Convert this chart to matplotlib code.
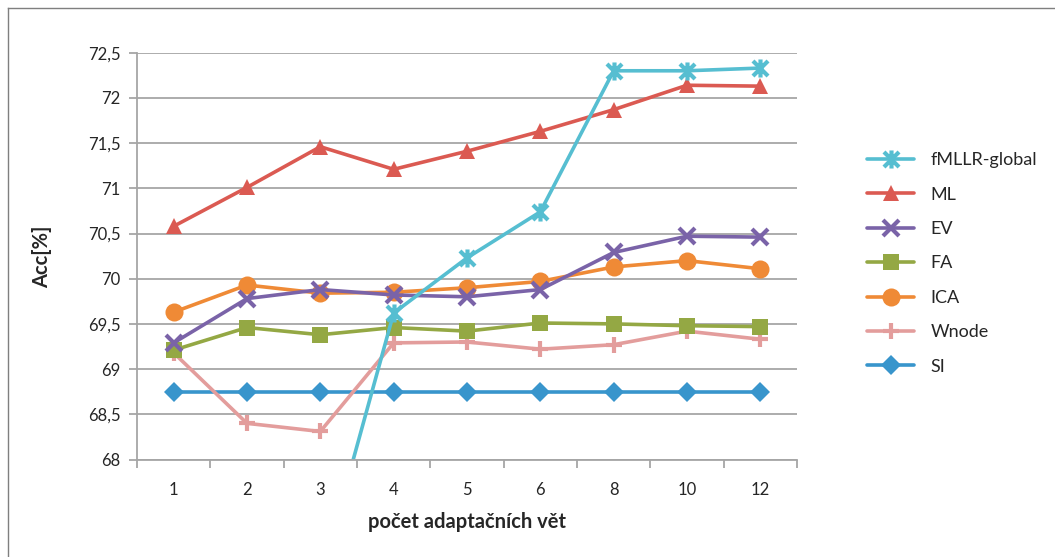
import numpy as np
import matplotlib
matplotlib.use("Agg")
import matplotlib.pyplot as plt
from matplotlib.path import Path
from matplotlib.ticker import FixedLocator, FuncFormatter

plt.rcParams['font.family'] = ['Lato', 'DejaVu Sans']

categories = ["1", "2", "3", "4", "5", "6", "8", "10", "12"]

fmllr_global = [np.nan, np.nan, 66.68, 69.62, 70.23, 70.74, 72.30, 72.30, 72.33]
ml = [70.58, 71.01, 71.46, 71.21, 71.41, 71.63, 71.87, 72.14, 72.13]
ev = [69.29, 69.78, 69.88, 69.82, 69.80, 69.88, 70.29, 70.47, 70.46]
fa = [69.21, 69.46, 69.38, 69.46, 69.42, 69.51, 69.50, 69.48, 69.47]
ica = [69.63, 69.93, 69.84, 69.85, 69.90, 69.97, 70.13, 70.20, 70.11]
wnode = [69.18, 68.40, 68.31, 69.29, 69.30, 69.22, 69.27, 69.42, 69.33]
si = [68.75, 68.75, 68.75, 68.75, 68.75, 68.75, 68.75, 68.75, 68.75]

series_names = ["fMLLR-global", "ML", "EV", "FA", "ICA", "Wnode", "SI"]

# Excel-style "star" marker: an X with a vertical bar through it
star = Path([(-0.5, -0.5), (0.5, 0.5), (-0.5, 0.5), (0.5, -0.5), (0, -0.6), (0, 0.6)],
            [Path.MOVETO, Path.LINETO, Path.MOVETO, Path.LINETO, Path.MOVETO, Path.LINETO])

styles = {
    "fMLLR-global": dict(color="#56BED1", marker=star, ms=13, mew=3.0),
    "ML": dict(color="#DB5A52", marker="^", ms=12, mew=0),
    "EV": dict(color="#7A63A8", marker="x", ms=11, mew=3.0),
    "FA": dict(color="#94A844", marker="s", ms=11.5, mew=0),
    "ICA": dict(color="#EF8A36", marker="o", ms=13, mew=0),
    "Wnode": dict(color="#E39D9C", marker="+", ms=12, mew=3.0),
    "SI": dict(color="#3895CC", marker="D", ms=10, mew=0),
}

data = {
    "fMLLR-global": fmllr_global, "ML": ml, "EV": ev, "FA": fa,
    "ICA": ica, "Wnode": wnode, "SI": si,
}

fig = plt.figure(figsize=(10.55, 5.57), dpi=100)
ax = fig.add_axes([137 / 1055, 1 - 459.5 / 557, (797 - 137) / 1055, (459.5 - 52.7) / 557])

x = np.arange(1, len(categories) + 1)
grid_c = "#A6A6A6"

handles = []
# draw in reverse so the first series is on top
for name in reversed(series_names):
    st = styles[name]
    kw = dict(color=st["color"], lw=2.6, marker=st["marker"], markersize=st["ms"],
              markeredgewidth=st["mew"], markeredgecolor=st["color"],
              markerfacecolor=st["color"], solid_capstyle="round", label=name)
    line, = ax.plot(x, data[name], **kw)
    handles.append(line)
handles = handles[::-1]

ax.set_xlim(0.5, len(categories) + 0.5)
ax.set_ylim(68, 72.5)
yt = np.arange(68, 72.51, 0.5)
ax.set_yticks(yt)
ax.yaxis.set_major_formatter(FuncFormatter(
    lambda v, p: (f"{v:.1f}".replace(".", ",") if abs(v - round(v)) > 1e-6 else f"{int(round(v))}")))
ax.set_xticks(x)
ax.set_xticklabels(categories)
ax.xaxis.set_minor_locator(FixedLocator(np.arange(0.5, len(categories) + 1, 1.0)))

ax.tick_params(axis="x", which="major", length=0, pad=16, labelsize=12, colors="#262626")
ax.tick_params(axis="x", which="minor", length=6, width=1.3, color=grid_c)
ax.tick_params(axis="y", which="major", length=6, width=1.3, color=grid_c, pad=6,
               labelsize=12, labelcolor="#262626")

ax.grid(axis="y", color=grid_c, lw=1.3)
ax.set_axisbelow(True)
for s in ["top", "right"]:
    ax.spines[s].set_visible(False)
for s in ["left", "bottom"]:
    ax.spines[s].set_color(grid_c)
    ax.spines[s].set_linewidth(1.3)

fig.text(467 / 1055, 1 - 522 / 557, "počet adaptačních vět", ha="center", va="center",
         fontsize=14.5, fontweight="bold", color="#262626")
fig.text(42 / 1055, 1 - 257 / 557, "Acc[%]", ha="center", va="center", rotation=90,
         fontsize=14.5, fontweight="bold", color="#262626")

leg = fig.legend(handles=handles, labels=series_names, loc="upper left",
                 bbox_to_anchor=(860 / 1055, 1 - 145 / 557), frameon=False,
                 fontsize=13, handlelength=2.6, handletextpad=0.9,
                 labelspacing=1.02, borderaxespad=0)
for t in leg.get_texts():
    t.set_color("#262626")

# outer chart frame
fig.add_artist(plt.Line2D([8 / 1055, 8 / 1055], [0, 1 - 8 / 557], transform=fig.transFigure,
                          color="#7F7F7F", lw=1.0))
fig.add_artist(plt.Line2D([8 / 1055, 1], [1 - 8 / 557, 1 - 8 / 557], transform=fig.transFigure,
                          color="#7F7F7F", lw=1.0))

fig.savefig("out.png", dpi=100)
